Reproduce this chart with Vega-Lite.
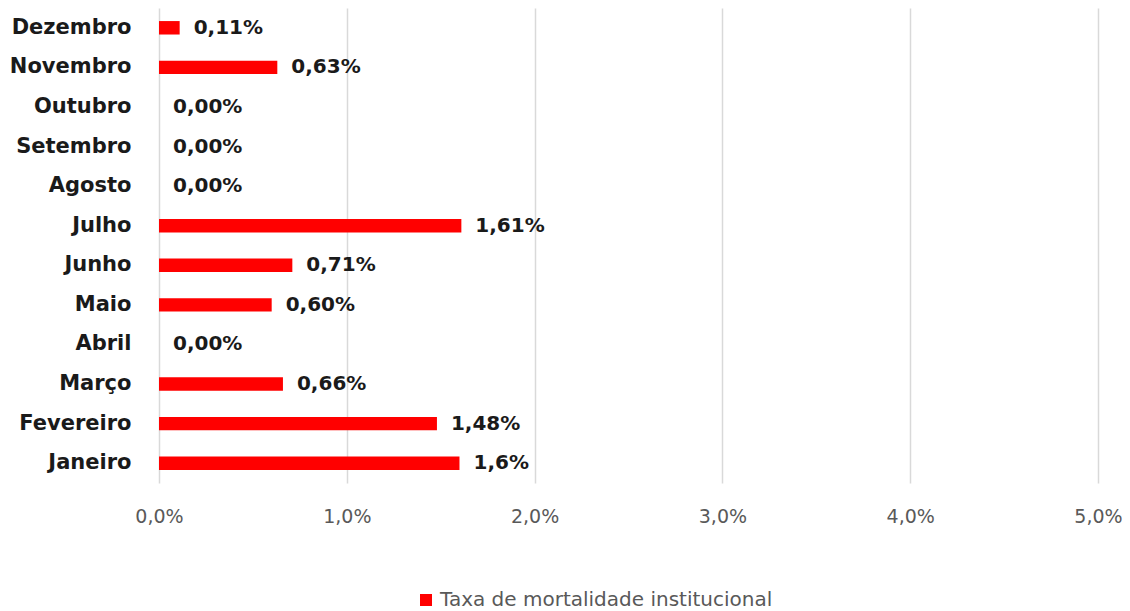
{
  "$schema": "https://vega.github.io/schema/vega-lite/v6.json",
  "width": 939,
  "height": 475,
  "autosize": {"type": "none"},
  "padding": {"left": 159, "top": 8, "right": 32, "bottom": 128},
  "background": "white",
  "config": {"view": {"stroke": null}, "font": "DejaVu Sans"},
  "data": {
    "values": [
      {"mes": "Janeiro", "taxa": 0.016, "label": "1,6%", "serie": "Taxa de mortalidade institucional"},
      {"mes": "Fevereiro", "taxa": 0.0148, "label": "1,48%", "serie": "Taxa de mortalidade institucional"},
      {"mes": "Março", "taxa": 0.0066, "label": "0,66%", "serie": "Taxa de mortalidade institucional"},
      {"mes": "Abril", "taxa": 0.0, "label": "0,00%", "serie": "Taxa de mortalidade institucional"},
      {"mes": "Maio", "taxa": 0.006, "label": "0,60%", "serie": "Taxa de mortalidade institucional"},
      {"mes": "Junho", "taxa": 0.0071, "label": "0,71%", "serie": "Taxa de mortalidade institucional"},
      {"mes": "Julho", "taxa": 0.0161, "label": "1,61%", "serie": "Taxa de mortalidade institucional"},
      {"mes": "Agosto", "taxa": 0.0, "label": "0,00%", "serie": "Taxa de mortalidade institucional"},
      {"mes": "Setembro", "taxa": 0.0, "label": "0,00%", "serie": "Taxa de mortalidade institucional"},
      {"mes": "Outubro", "taxa": 0.0, "label": "0,00%", "serie": "Taxa de mortalidade institucional"},
      {"mes": "Novembro", "taxa": 0.0063, "label": "0,63%", "serie": "Taxa de mortalidade institucional"},
      {"mes": "Dezembro", "taxa": 0.0011, "label": "0,11%", "serie": "Taxa de mortalidade institucional"}
    ]
  },
  "encoding": {
    "y": {
      "field": "mes",
      "type": "nominal",
      "sort": ["Dezembro", "Novembro", "Outubro", "Setembro", "Agosto", "Julho", "Junho", "Maio", "Abril", "Março", "Fevereiro", "Janeiro"],
      "scale": {"paddingInner": 0.66, "paddingOuter": 0.33},
      "axis": {
        "title": null,
        "domain": false,
        "ticks": false,
        "labelPadding": 28,
        "labelFont": "DejaVu Sans",
        "labelFontWeight": "bold",
        "labelFontSize": 21,
        "labelColor": "#1a1a1a"
      }
    }
  },
  "layer": [
    {
      "mark": {"type": "bar"},
      "encoding": {
        "x": {
          "field": "taxa",
          "type": "quantitative",
          "scale": {"domain": [0, 0.05], "nice": false},
          "axis": {
            "title": null,
            "values": [0, 0.01, 0.02, 0.03, 0.04, 0.05],
            "labelExpr": "replace(format(datum.value, '.1%'), '.', ',')",
            "labelFlush": false,
            "domain": false,
            "ticks": false,
            "grid": true,
            "gridColor": "#d9d9d9",
            "gridWidth": 1.5,
            "labelPadding": 24,
            "labelFontSize": 19,
            "labelColor": "#595959",
            "labelFont": "DejaVu Sans"
          }
        },
        "color": {
          "field": "serie",
          "type": "nominal",
          "scale": {"range": ["#ff0000"]},
          "legend": {
            "title": null,
            "orient": "none",
            "legendX": 257,
            "legendY": 582,
            "padding": 0,
            "symbolType": "square",
            "symbolSize": 144,
            "symbolStrokeWidth": 0,
            "labelFontSize": 20,
            "labelLimit": 0,
            "labelColor": "#595959",
            "labelFont": "DejaVu Sans",
            "labelOffset": 4
          }
        }
      }
    },
    {
      "mark": {"type": "text", "align": "left", "baseline": "middle", "dx": 14, "fontWeight": "bold", "fontSize": 20, "font": "DejaVu Sans", "color": "#1a1a1a"},
      "encoding": {
        "x": {"field": "taxa", "type": "quantitative"},
        "text": {"field": "label"}
      }
    }
  ]
}
